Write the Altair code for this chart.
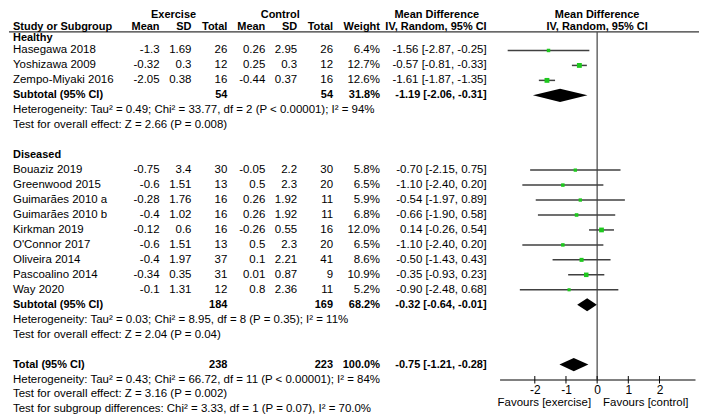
import altair as alt
import pandas as pd

# ---------------- data ----------------
healthy_studies = ["Hasegawa 2018", "Yoshizawa 2009", "Zempo-Miyaki 2016"]
healthy_ex_mean = [-1.3, -0.32, -2.05]
healthy_ex_sd = [1.69, 0.3, 0.38]
healthy_ex_n = [26, 12, 16]
healthy_ct_mean = [0.26, 0.25, -0.44]
healthy_ct_sd = [2.95, 0.3, 0.37]
healthy_ct_n = [26, 12, 16]
healthy_weight = [6.4, 12.7, 12.6]
healthy_md = [-1.56, -0.57, -1.61]
healthy_lo = [-2.87, -0.81, -1.87]
healthy_hi = [-0.25, -0.33, -1.35]

diseased_studies = ["Bouaziz 2019", "Greenwood 2015", "Guimarães 2010 a", "Guimarães 2010 b",
                    "Kirkman 2019", "O'Connor 2017", "Oliveira 2014", "Pascoalino 2014", "Way 2020"]
diseased_ex_mean = [-0.75, -0.6, -0.28, -0.4, -0.12, -0.6, -0.4, -0.34, -0.1]
diseased_ex_sd = [3.4, 1.51, 1.76, 1.02, 0.6, 1.51, 1.97, 0.35, 1.31]
diseased_ex_n = [30, 13, 16, 16, 16, 13, 37, 31, 12]
diseased_ct_mean = [-0.05, 0.5, 0.26, 0.26, -0.26, 0.5, 0.1, 0.01, 0.8]
diseased_ct_sd = [2.2, 2.3, 1.92, 1.92, 0.55, 2.3, 2.21, 0.87, 2.36]
diseased_ct_n = [30, 20, 11, 11, 16, 20, 41, 9, 11]
diseased_weight = [5.8, 6.5, 5.9, 6.8, 12.0, 6.5, 8.6, 10.9, 5.2]
diseased_md = [-0.70, -1.10, -0.54, -0.66, 0.14, -1.10, -0.50, -0.35, -0.90]
diseased_lo = [-2.15, -2.40, -1.97, -1.90, -0.26, -2.40, -1.43, -0.93, -2.48]
diseased_hi = [0.75, 0.20, 0.89, 0.58, 0.54, 0.20, 0.43, 0.23, 0.68]

summary_labels = ["Subtotal (95% CI)", "Subtotal (95% CI)", "Total (95% CI)"]
summary_ex_n = [54, 184, 238]
summary_ct_n = [54, 169, 223]
summary_weight = [31.8, 68.2, 100.0]
summary_md = [-1.19, -0.32, -0.75]
summary_lo = [-2.06, -0.64, -1.21]
summary_hi = [-0.31, -0.01, -0.28]

group_names = ["Healthy", "Diseased"]
healthy_notes = ["Heterogeneity: Tau² = 0.49; Chi² = 33.77, df = 2 (P < 0.00001); I² = 94%",
                 "Test for overall effect: Z = 2.66 (P = 0.008)"]
diseased_notes = ["Heterogeneity: Tau² = 0.03; Chi² = 8.95, df = 8 (P = 0.35); I² = 11%",
                  "Test for overall effect: Z = 2.04 (P = 0.04)"]
total_notes = ["Heterogeneity: Tau² = 0.43; Chi² = 66.72, df = 11 (P < 0.00001); I² = 84%",
               "Test for overall effect: Z = 3.16 (P = 0.002)",
               "Test for subgroup differences: Chi² = 3.33, df = 1 (P = 0.07), I² = 70.0%"]

col_headers = ["Study or Subgroup", "Mean", "SD", "Total", "Mean", "SD", "Total", "Weight",
               "IV, Random, 95% CI"]
top_headers = ["Exercise", "Control", "Mean Difference"]
plot_headers = ["Mean Difference", "IV, Random, 95% CI"]
x_ticks = [-2, -1, 0, 1, 2]
favours = ["Favours [exercise]", "Favours [control]"]

# ---------------- table construction ----------------
FONT = "Liberation Sans"
FS = 11.5
FSB = 11
GREEN = "#1ec81e"
LINE = "#404040"


def fmt(v):
    return f"{v:g}"


def ci_text(md, lo, hi):
    return f"{md:.2f} [{lo:.2f}, {hi:.2f}]"


table = []
studies = []
diamonds = []


def add(row, label="", bold=False, **kw):
    d = dict(row=row, label=label, bold=bold, e_mean="", e_sd="", e_n="",
             c_mean="", c_sd="", c_n="", weight="", ci="")
    d.update(kw)
    table.append(d)


groups = [
    (healthy_studies, healthy_ex_mean, healthy_ex_sd, healthy_ex_n, healthy_ct_mean,
     healthy_ct_sd, healthy_ct_n, healthy_weight, healthy_md, healthy_lo, healthy_hi, healthy_notes),
    (diseased_studies, diseased_ex_mean, diseased_ex_sd, diseased_ex_n, diseased_ct_mean,
     diseased_ct_sd, diseased_ct_n, diseased_weight, diseased_md, diseased_lo, diseased_hi, diseased_notes),
]

r = -1
for gi, g in enumerate(groups):
    names, em, es, en, cm, cs, cn, w, md, lo, hi, notes = g
    add(r, group_names[gi], True)
    r += 1
    for i in range(len(names)):
        add(r, names[i], False, e_mean=fmt(em[i]), e_sd=fmt(es[i]), e_n=str(en[i]),
            c_mean=fmt(cm[i]), c_sd=fmt(cs[i]), c_n=str(cn[i]),
            weight=f"{w[i]:.1f}%", ci=ci_text(md[i], lo[i], hi[i]))
        studies.append(dict(row=r, md=md[i], lo=lo[i], hi=hi[i], w=w[i]))
        r += 1
    add(r, summary_labels[gi], True, e_n=str(summary_ex_n[gi]), c_n=str(summary_ct_n[gi]),
        weight=f"{summary_weight[gi]:.1f}%",
        ci=ci_text(summary_md[gi], summary_lo[gi], summary_hi[gi]))
    diamonds.append((gi, r))
    r += 1
    for n in notes:
        add(r, n, False)
        r += 1
    r += 1

add(r, summary_labels[2], True, e_n=str(summary_ex_n[2]), c_n=str(summary_ct_n[2]),
    weight=f"{summary_weight[2]:.1f}%", ci=ci_text(summary_md[2], summary_lo[2], summary_hi[2]))
diamonds.append((2, r))
axis_row = r + 1
r += 1
for n in total_notes:
    add(r, n, False)
    r += 1
last_row = r - 1

table_df = pd.DataFrame(table)
study_df = pd.DataFrame(studies)

H = 0.44
dia_rows = []
for k, rr in diamonds:
    dia_rows.append(dict(id=k, x=summary_lo[k], top=rr, bot=rr))
    dia_rows.append(dict(id=k, x=summary_md[k], top=rr - H, bot=rr + H))
    dia_rows.append(dict(id=k, x=summary_hi[k], top=rr, bot=rr))
dia_df = pd.DataFrame(dia_rows)

# ---------------- scales ----------------
W = 692
HEIGHT = 372
ROW = 15.0
# header rows are packed a little tighter, body rows at a constant pitch
yscale = alt.Scale(domain=[-3, -1, 0, last_row],
                   range=[6, 30, 42, 42 + ROW * last_row], zero=False, nice=False)
xscale = alt.Scale(domain=[-3.13, 3.14], range=[492, 688], zero=False, nice=False)
xaxis = alt.Axis(values=x_ticks, ticks=False, grid=False, domainColor="black",
                 labelColor="black", labelFont=FONT, labelFontSize=12, labelPadding=5,
                 labelExpr="'' + datum.value")


def X(field):
    return alt.X(f"{field}:Q", scale=xscale, axis=xaxis, title=None)


def Y(field):
    return alt.Y(f"{field}:Q", scale=yscale, axis=None, title=None)


layers = []

UL = -1.55
# header underline
layers.append(alt.Chart(pd.DataFrame({"y": [UL]})).mark_rule(color="black", strokeWidth=1)
              .encode(x=alt.value(0), x2=alt.value(W), y=Y("y")))
# zero line
layers.append(alt.Chart(pd.DataFrame({"x": [0], "y1": [UL], "y2": [axis_row]}))
              .mark_rule(color="#505050", strokeWidth=1.3)
              .encode(x=X("x"), y=Y("y1"), y2="y2:Q"))
# axis ticks crossing the axis line
layers.append(alt.Chart(pd.DataFrame({"t": x_ticks})).mark_rule(color="black", strokeWidth=1)
              .encode(x=X("t"), y=alt.value(HEIGHT - 3.5), y2=alt.value(HEIGHT + 4)))
# CI lines
layers.append(alt.Chart(study_df).mark_rule(color=LINE, strokeWidth=1.5)
              .encode(x=X("lo"), x2="hi:Q", y=Y("row")))
# squares
layers.append(alt.Chart(study_df).mark_square(color=GREEN, filled=True, opacity=1)
              .encode(x=X("md"), y=Y("row"),
                      size=alt.Size("w:Q", scale=alt.Scale(domain=[0, 12.7], range=[0, 24]),
                                    legend=None)))
# diamonds
layers.append(alt.Chart(dia_df).mark_area(color="black", orient="vertical", interpolate="linear")
              .encode(x=X("x"), y=alt.Y("top:Q", scale=yscale, axis=None, stack=False),
                      y2="bot:Q", detail="id:N"))

# table columns
columns = [
    ("label", 4, "left"),
    ("e_mean", 151, "right"),
    ("e_sd", 183, "right"),
    ("e_n", 219, "right"),
    ("c_mean", 257, "right"),
    ("c_sd", 289, "right"),
    ("c_n", 325, "right"),
    ("weight", 372, "right"),
    ("ci", 479, "right"),
]


def text_mark(bold, align):
    return dict(font=FONT, fontSize=FSB if bold else FS, color="black", baseline="middle",
                align=align, fontWeight="bold" if bold else "normal")


for ci, (field, px, align) in enumerate(columns):
    for bold in (True, False):
        flt = "datum.bold" if bold else "!datum.bold"
        layers.append(alt.Chart(table_df).transform_filter(flt)
                      .mark_text(**text_mark(bold, align))
                      .encode(x=alt.value(px), y=Y("row"), text=f"{field}:N"))
    hdr = pd.DataFrame({"row": [-2], "t": [col_headers[ci]]})
    layers.append(alt.Chart(hdr).mark_text(**text_mark(True, align))
                  .encode(x=alt.value(px), y=Y("row"), text="t:N"))

# top header (group titles)
for t, px in zip(top_headers, [165, 272, 429]):
    layers.append(alt.Chart(pd.DataFrame({"row": [-3], "t": [t]}))
                  .mark_text(**text_mark(True, "center"))
                  .encode(x=alt.value(px), y=Y("row"), text="t:N"))

# plot headers centred on zero
ph = pd.DataFrame({"row": [-3, -2], "t": plot_headers, "x": [0, 0]})
layers.append(alt.Chart(ph).mark_text(**text_mark(True, "center"))
              .encode(x=X("x"), y=Y("row"), text="t:N"))

# favours labels
fav = pd.DataFrame({"t": favours, "x": [0, 0], "row": [axis_row + 1.55] * 2})
layers.append(alt.Chart(fav.iloc[[0]]).mark_text(dx=-6, **text_mark(False, "right"))
              .encode(x=X("x"), y=Y("row"), text="t:N"))
layers.append(alt.Chart(fav.iloc[[1]]).mark_text(dx=6, **text_mark(False, "left"))
              .encode(x=X("x"), y=Y("row"), text="t:N"))

chart = (alt.layer(*layers)
         .properties(width=W, height=HEIGHT, padding=0, background="white")
         .configure_view(strokeWidth=0))

chart.save("out.html", embed_options={"renderer": "svg", "actions": False})
